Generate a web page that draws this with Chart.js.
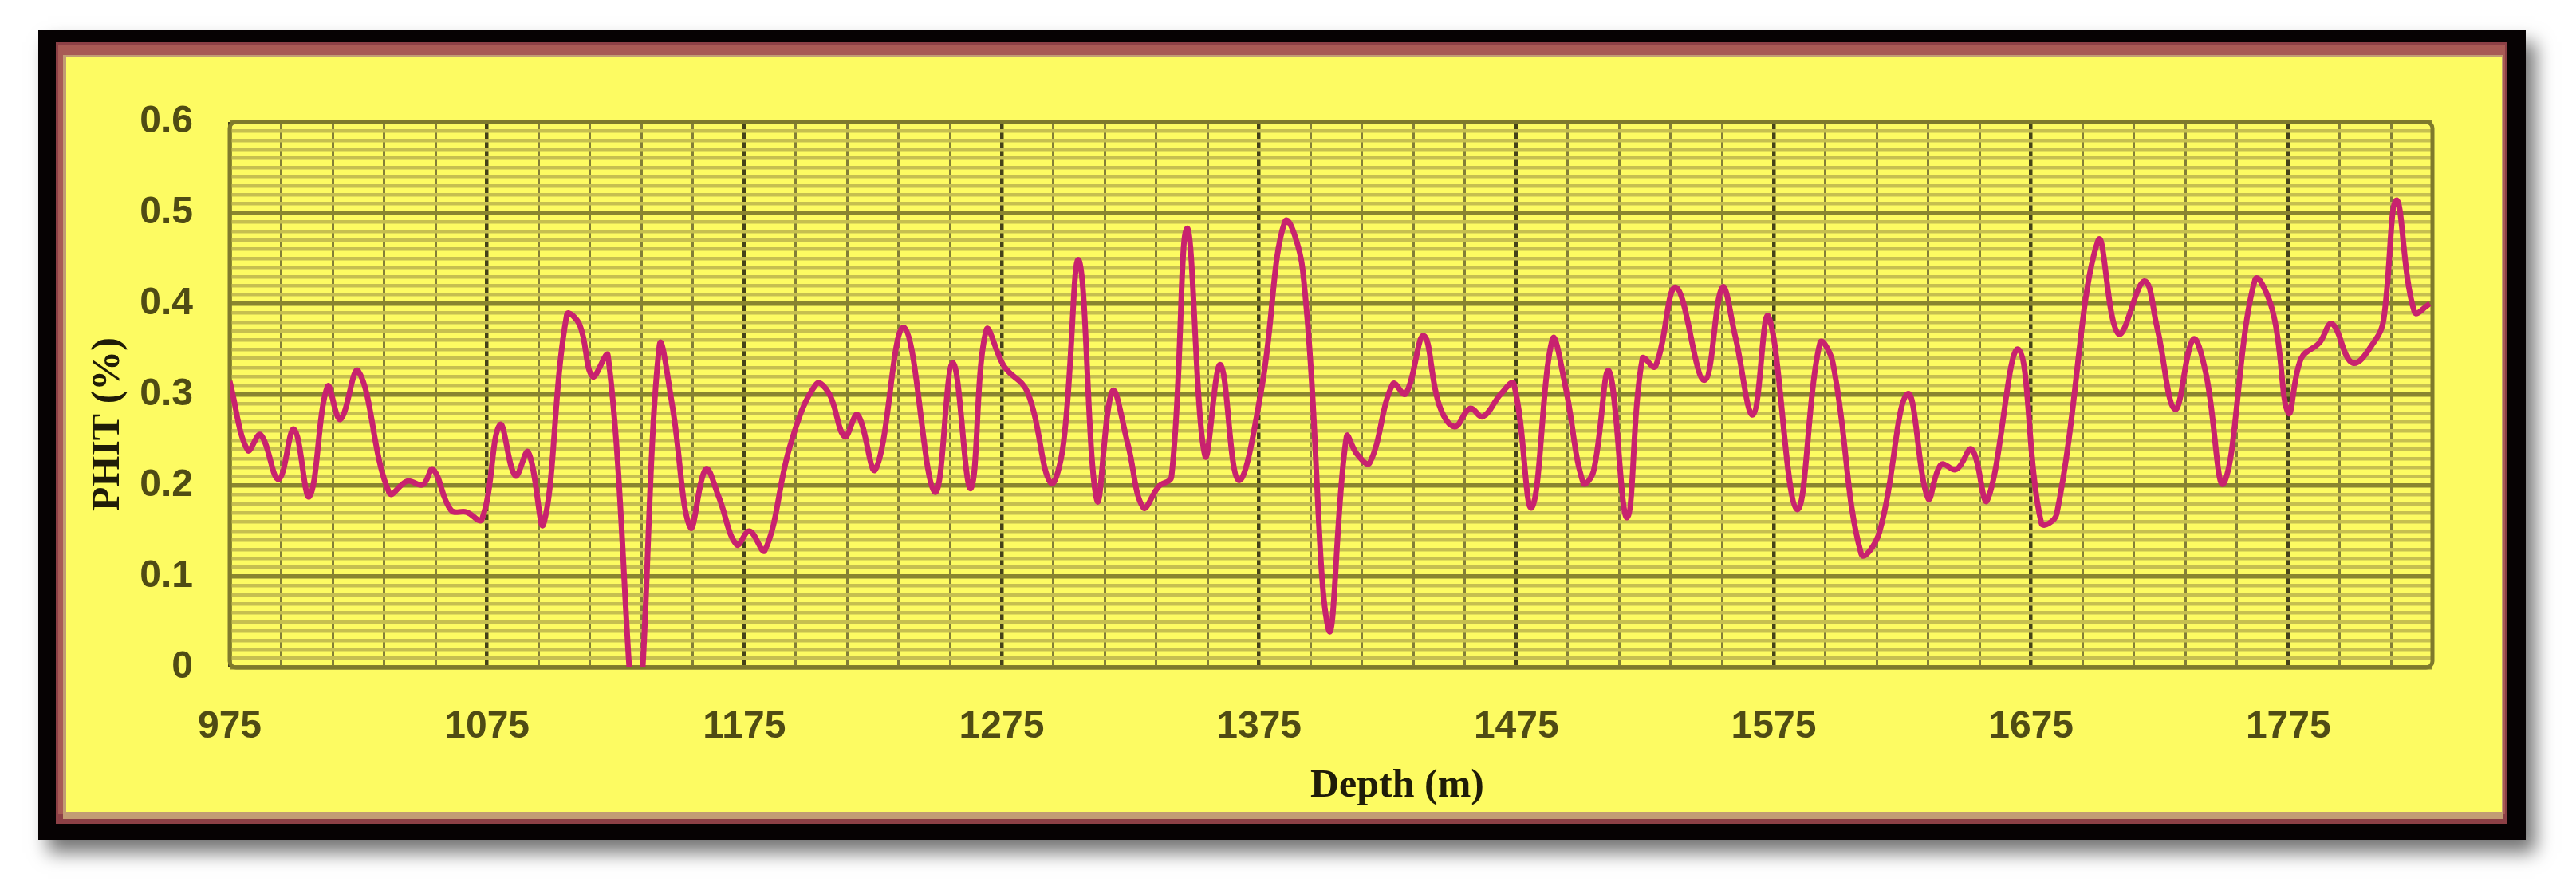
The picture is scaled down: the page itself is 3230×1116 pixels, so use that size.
<!DOCTYPE html>
<html>
<head>
<meta charset="utf-8">
<script src="https://cdn.jsdelivr.net/npm/chart.js@4.4.1/dist/chart.umd.min.js"></script>
<style>
  html, body { margin: 0; padding: 0; background: #ffffff; }
  #wrap { width: 3230px; height: 1116px; }
</style>
</head>
<body>
<div id="wrap"><canvas id="c" width="3230" height="1116"></canvas></div>
<script>
// ---------------- data ----------------
const depth = [
  975, 982, 987, 994, 1000, 1006, 1013, 1018, 1025, 1037, 1044, 1050, 1054, 1061, 1067, 1073,
  1080, 1086, 1091, 1097, 1106, 1111, 1116, 1122, 1133, 1142, 1147, 1154, 1160, 1165, 1172, 1177,
  1183, 1193, 1203, 1208, 1214, 1219, 1226, 1237, 1249, 1256, 1263, 1269, 1276, 1285, 1294, 1299,
  1305, 1312, 1318, 1324, 1330, 1336, 1341, 1347, 1354, 1360, 1367, 1376, 1385, 1392, 1402, 1409,
  1413, 1418, 1427, 1432, 1439, 1445, 1451, 1457, 1462, 1469, 1474, 1481, 1489, 1494, 1501, 1505,
  1511, 1518, 1524, 1529, 1537, 1548, 1555, 1560, 1567, 1573, 1584, 1593, 1598, 1609, 1616, 1627,
  1635, 1640, 1646, 1652, 1658, 1670, 1679, 1685, 1701, 1709, 1719, 1724, 1731, 1738, 1743, 1750,
  1762, 1769, 1775, 1780, 1787, 1792, 1800, 1809, 1812, 1817, 1824, 1830
];
const phit = [
  0.315, 0.239, 0.256, 0.207, 0.262, 0.188, 0.309, 0.273, 0.326, 0.192, 0.205, 0.201, 0.218, 0.173, 0.171, 0.163,
  0.267, 0.211, 0.237, 0.158, 0.388, 0.377, 0.320, 0.343, -0.05, 0.354, 0.288, 0.154, 0.218, 0.188, 0.135, 0.150,
  0.129, 0.246, 0.312, 0.301, 0.254, 0.278, 0.218, 0.374, 0.193, 0.335, 0.197, 0.371, 0.331, 0.303, 0.203, 0.246,
  0.448, 0.184, 0.304, 0.246, 0.176, 0.199, 0.210, 0.483, 0.233, 0.333, 0.206, 0.307, 0.490, 0.437, 0.042, 0.254,
  0.235, 0.225, 0.312, 0.301, 0.365, 0.289, 0.265, 0.285, 0.276, 0.301, 0.312, 0.176, 0.361, 0.310, 0.203, 0.216,
  0.326, 0.165, 0.340, 0.331, 0.418, 0.316, 0.418, 0.365, 0.278, 0.386, 0.174, 0.357, 0.335, 0.125, 0.148, 0.301,
  0.186, 0.223, 0.218, 0.240, 0.184, 0.350, 0.159, 0.169, 0.469, 0.367, 0.425, 0.374, 0.284, 0.361, 0.323, 0.203,
  0.426, 0.391, 0.280, 0.340, 0.357, 0.378, 0.335, 0.361, 0.382, 0.514, 0.391, 0.400
];
const xTickLabels = [975, 1075, 1175, 1275, 1375, 1475, 1575, 1675, 1775];
const yTickLabels = ['0', '0.1', '0.2', '0.3', '0.4', '0.5', '0.6'];
const xMin = 975, xMax = 1831, xMinorStep = 20;
const yMin = 0, yMax = 0.6, yMinorStep = 0.01;
const xTitle = 'Depth (m)';
const yTitle = 'PHIT (%)';

// ---------------- styles ----------------
const YELLOW = '#FDFB62';
const TICK_FONT = "'Liberation Sans', Arial, sans-serif";
const TITLE_FONT = "'Liberation Serif', 'Times New Roman', serif";

const points = depth.map((d, i) => ({ x: d, y: phit[i] }));

const isMajorX = v => xTickLabels.includes(Math.round(v));
const isMajorY = v => Math.round(v * 100) % 10 === 0;

const framePlugin = {
  id: 'frame',
  beforeDraw(chart) {
    const c = chart.ctx;
    c.save();
    c.fillStyle = '#ffffff';
    c.fillRect(0, 0, chart.width, chart.height);
    c.shadowColor = 'rgba(0,0,0,0.55)';
    c.shadowBlur = 22;
    c.shadowOffsetX = 12;
    c.shadowOffsetY = 16;
    c.fillStyle = '#060203';
    c.fillRect(48, 37, 3119, 1016);
    c.shadowColor = 'transparent';
    c.shadowBlur = 0; c.shadowOffsetX = 0; c.shadowOffsetY = 0;
    c.fillStyle = '#8C4046';
    c.fillRect(70, 53, 3074, 980);
    c.fillStyle = '#A85A55';
    c.fillRect(73, 57, 3068, 964);
    c.fillStyle = '#C29C74';
    c.fillRect(79, 69, 3060, 958);
    c.fillStyle = YELLOW;
    c.fillRect(83, 72, 3054, 946);
    c.restore();
  },
  beforeDatasetsDraw(chart) {
    const a = chart.chartArea, c = chart.ctx;
    c.save();
    c.strokeStyle = '#7F7A2C';
    c.lineWidth = 5;
    c.beginPath();
    c.roundRect(a.left, a.top, a.right - a.left, a.bottom - a.top, 8);
    c.stroke();
    c.restore();
  },
  afterDraw(chart) {
    const c = chart.ctx;
    c.save();
    c.fillStyle = '#1F1C08';
    c.font = 'bold 50px ' + TITLE_FONT;
    c.textAlign = 'center';
    c.textBaseline = 'middle';
    c.fillText(xTitle, 1752, 986);
    c.translate(136, 532);
    c.rotate(-Math.PI / 2);
    c.fillText(yTitle, 0, 0);
    c.restore();
  }
};

new Chart(document.getElementById('c'), {
  type: 'line',
  data: {
    datasets: [{
      data: points,
      borderColor: '#C8226F',
      borderWidth: 7,
      pointRadius: 0,
      tension: 0.4,
      fill: false,
      clip: 0
    }]
  },
  options: {
    responsive: false,
    animation: false,
    devicePixelRatio: 1,
    layout: { padding: { top: 153, right: 180, bottom: 0, left: 0 } },
    plugins: { legend: { display: false }, tooltip: { enabled: false }, title: { display: false } },
    scales: {
      x: {
        type: 'linear',
        min: xMin,
        max: xMax,
        z: -1,
        afterBuildTicks: scale => {
          const t = [];
          for (let v = xMin; v < xMax; v += xMinorStep) t.push({ value: v });
          scale.ticks = t;
        },
        afterFit: scale => { scale.height = 1116 - 837; },
        border: { display: false },
        grid: {
          drawTicks: false,
          color: ctx => isMajorX(ctx.tick.value) ? '#45421A' : '#837E38',
          lineWidth: ctx => isMajorX(ctx.tick.value) ? 4.5 : 3
        },
        ticks: {
          autoSkip: false,
          maxRotation: 0,
          padding: 46,
          color: '#4F4B14',
          font: { family: TICK_FONT, size: 48, weight: 'bold' },
          callback: v => isMajorX(v) ? String(Math.round(v)) : ''
        }
      },
      y: {
        type: 'linear',
        min: yMin,
        max: yMax,
        z: -2,
        afterFit: scale => { scale.width = 288; },
        border: { display: false },
        grid: {
          drawTicks: false,
          color: ctx => isMajorY(ctx.tick.value) ? '#8A852F' : '#C6BF50',
          lineWidth: ctx => isMajorY(ctx.tick.value) ? 5.5 : 4.5
        },
        ticks: {
          stepSize: yMinorStep,
          autoSkip: false,
          padding: 46,
          color: '#4F4B14',
          font: { family: TICK_FONT, size: 48, weight: 'bold' },
          callback: v => isMajorY(v) ? yTickLabels[Math.round(v * 10)] : ''
        }
      }
    }
  },
  plugins: [framePlugin]
});
</script>
</body>
</html>
